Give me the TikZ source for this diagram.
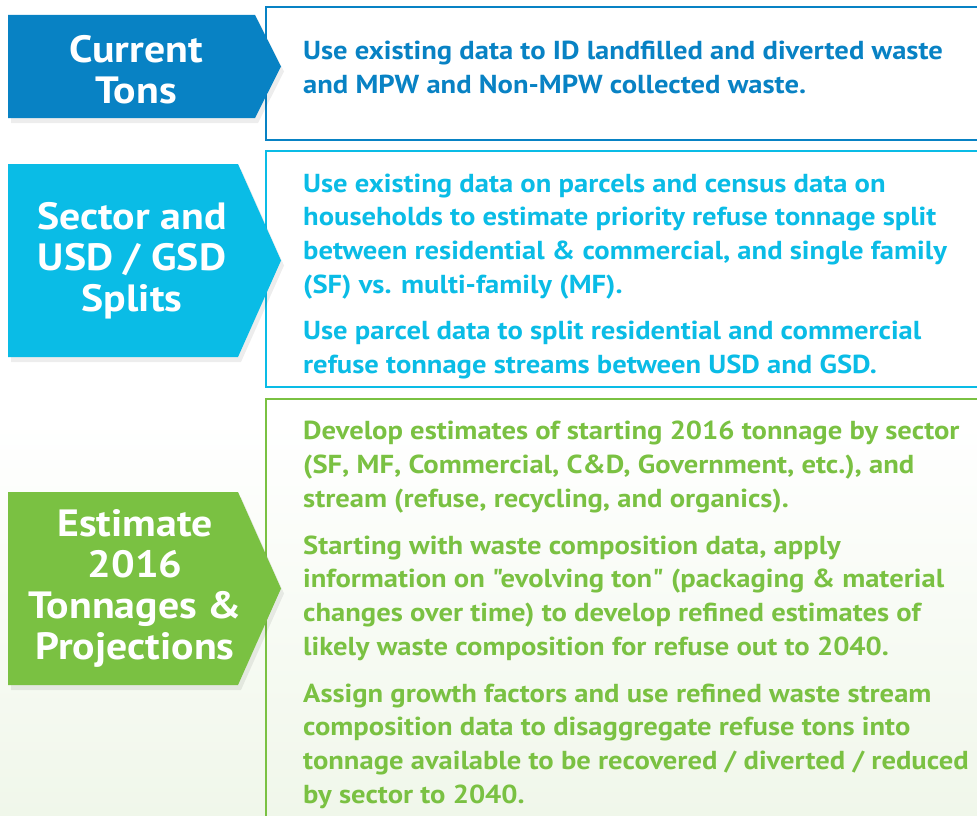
\documentclass[tikz,border=0pt]{standalone}
\usepackage{fontspec}
\setmainfont{PT Sans}
\newfontfamily\bodyfam[FakeStretch=1.1]{PT Sans}
\newfontfamily\chevfam[FakeStretch=1.1]{PT Sans}
\usetikzlibrary{calc}
\definecolor{cblue}{RGB}{8,130,196}
\definecolor{ccyan}{RGB}{10,188,230}
\definecolor{cgreen}{RGB}{122,193,66}
\definecolor{bggreen}{RGB}{240,247,234}
\newcommand\bodyfont{\bodyfam\fontsize{26}{33.6}\selectfont\bfseries}
\newcommand\chevfont{\chevfam\fontsize{38}{41}\selectfont\bfseries}
\newcommand\chevshape[6]{%
  \fill[black,opacity=0.07] (#1+3,#2+5) -- (#4+3,#2+5) -- (#5+3,#2/2+#3/2+5) -- (#4+3,#3+5) -- (#1+3,#3+5) -- cycle;
  \fill[#6] (#1,#2) -- (#4,#2) -- (#5,#2/2+#3/2) -- (#4,#3) -- (#1,#3) -- cycle;}
\begin{document}
\begin{tikzpicture}[x=1pt,y=-1pt,
  boxst/.style={draw, line width=2pt, anchor=north west, inner sep=0pt, minimum width=760pt},
  chevtext/.style={text=white, align=center, font=\chevfont, inner sep=0pt, anchor=base},
  bodytext/.style={align=left, anchor=base west, inner sep=0pt, font=\bodyfont}]
\useasboundingbox (0,0) rectangle (977,816);
\clip (0,0) rectangle (977,816);
\fill[white] (0,0) rectangle (977,816);
\shade[top color=white, bottom color=bggreen] (0,420) rectangle (977,816);
% boxes
\node[boxst, draw=cblue, minimum height=133pt] (b1) at (265,6) {};
\node[boxst, draw=ccyan, minimum height=236pt] (b2) at (265,150) {};
\node[boxst, draw=cgreen, minimum height=440pt] (b3) at (265,398) {};
% chevrons
\chevshape{8}{15}{118}{255}{281}{cblue}
\chevshape{8}{164}{357}{238}{281}{ccyan}
\chevshape{8}{492}{685}{238}{281}{cgreen}
\node[chevtext] (c1) at (136,103) {Current\\Tons};
\node[chevtext] (c2) at (132,311) {Sector and\\USD / GSD\\Splits};
\node[chevtext] (c3) at (135,659) {Estimate\\2016\\Tonnages \&\\Projections};
% texts
\node[bodytext, text=cblue] (t1) at (303,93) {Use existing data to ID landfilled and diverted waste\\and MPW and Non-MPW collected waste.};
\node[bodytext, text=ccyan] (t2) at (303,293) {Use existing data on parcels and census data on\\households to estimate priority refuse tonnage split\\between residential \& commercial, and single family\\(SF) vs. multi-family (MF).};
\node[bodytext, text=ccyan] (t3) at (303,373) {Use parcel data to split residential and commercial\\refuse tonnage streams between USD and GSD.};
\node[bodytext, text=cgreen] (t4) at (303,507) {Develop estimates of starting 2016 tonnage by sector\\(SF, MF, Commercial, C\&D, Government, etc.), and\\stream (refuse, recycling, and organics).};
\node[bodytext, text=cgreen] (t5) at (303,655) {Starting with waste composition data, apply\\information on "evolving ton" (packaging \& material\\changes over time) to develop refined estimates of\\likely waste composition for refuse out to 2040.};
\node[bodytext, text=cgreen] (t6) at (303,803) {Assign growth factors and use refined waste stream\\composition data to disaggregate refuse tons into\\tonnage available to be recovered / diverted / reduced\\by sector to 2040.};
\end{tikzpicture}
\end{document}
